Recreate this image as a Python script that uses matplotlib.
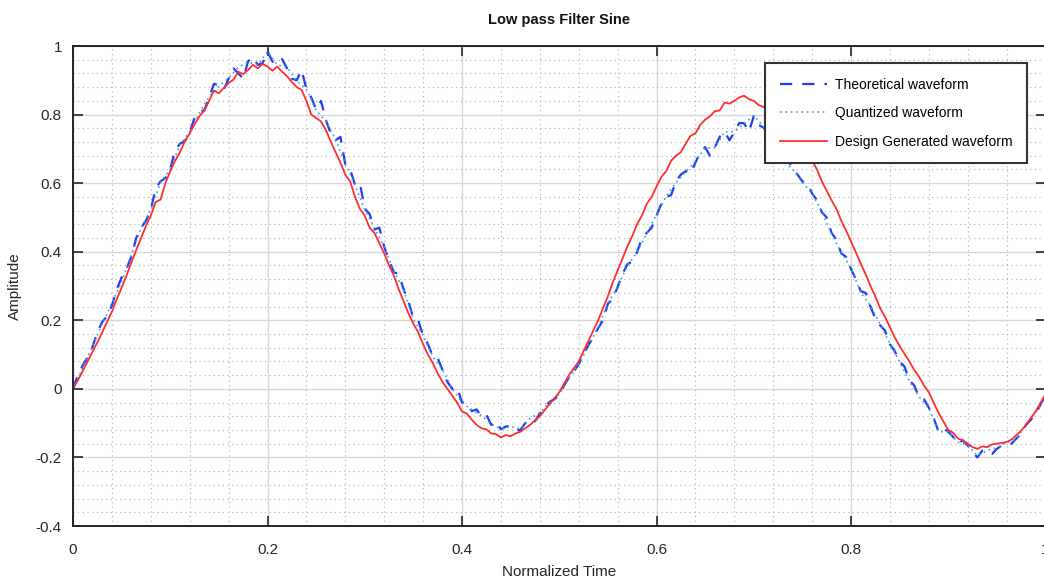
import numpy as np
import matplotlib
matplotlib.use("Agg")
import matplotlib.pyplot as plt
from matplotlib.ticker import MultipleLocator, FuncFormatter

plt.rcParams['font.family'] = ['Liberation Sans', 'DejaVu Sans']

# theoretical and design output: one sample every 0.005 of normalized time
theoretical = [
    0.000, 0.040, 0.068, 0.092, 0.122, 0.165, 0.195, 0.212, 0.243, 0.290,
    0.325, 0.350, 0.386, 0.440, 0.470, 0.490, 0.522, 0.585, 0.605, 0.615,
    0.642, 0.695, 0.715, 0.722, 0.750, 0.790, 0.808, 0.812, 0.850, 0.890,
    0.885, 0.872, 0.905, 0.935, 0.920, 0.905, 0.955, 0.968, 0.945, 0.950,
    0.985, 0.955, 0.948, 0.962, 0.935, 0.905, 0.900, 0.930, 0.875, 0.850,
    0.815, 0.840, 0.785, 0.745, 0.725, 0.735, 0.655, 0.640, 0.595, 0.600,
    0.525, 0.510, 0.465, 0.470, 0.415, 0.375, 0.340, 0.335, 0.290, 0.255,
    0.205, 0.200, 0.155, 0.130, 0.095, 0.090, 0.055, 0.020, 0.000, 0.005,
    -0.040, -0.040, -0.065, -0.060, -0.080, -0.075, -0.105, -0.095, -0.118, -0.110,
    -0.108, -0.120, -0.120, -0.100, -0.088, -0.095, -0.072, -0.055, -0.038, -0.030,
    -0.018, 0.010, 0.033, 0.050, 0.072, 0.100, 0.128, 0.150, 0.177, 0.200,
    0.248, 0.262, 0.297, 0.335, 0.363, 0.372, 0.398, 0.440, 0.455, 0.470,
    0.505, 0.540, 0.560, 0.565, 0.605, 0.625, 0.635, 0.628, 0.660, 0.690,
    0.705, 0.680, 0.705, 0.735, 0.750, 0.725, 0.748, 0.775, 0.775, 0.750,
    0.795, 0.770, 0.762, 0.745, 0.725, 0.700, 0.662, 0.670, 0.640, 0.625,
    0.605, 0.600, 0.570, 0.550, 0.515, 0.500, 0.455, 0.435, 0.395, 0.385,
    0.350, 0.320, 0.285, 0.280, 0.240, 0.205, 0.185, 0.170, 0.130, 0.110,
    0.080, 0.065, 0.025, 0.010, -0.025, -0.030, -0.055, -0.085, -0.125, -0.115,
    -0.125, -0.140, -0.160, -0.150, -0.165, -0.185, -0.200, -0.180, -0.180, -0.190,
    -0.175, -0.165, -0.160, -0.160, -0.145, -0.130, -0.105, -0.090, -0.072, -0.045,
    -0.020,
]

design = [
    0.000, 0.025, 0.052, 0.080, 0.108, 0.135, 0.165, 0.195, 0.225, 0.262,
    0.295, 0.330, 0.368, 0.405, 0.440, 0.475, 0.505, 0.545, 0.552, 0.600,
    0.635, 0.665, 0.690, 0.722, 0.745, 0.772, 0.795, 0.812, 0.840, 0.870,
    0.862, 0.878, 0.892, 0.902, 0.925, 0.918, 0.930, 0.945, 0.935, 0.948,
    0.940, 0.928, 0.940, 0.925, 0.912, 0.895, 0.880, 0.872, 0.840, 0.800,
    0.790, 0.780, 0.755, 0.722, 0.690, 0.660, 0.625, 0.605, 0.560, 0.525,
    0.505, 0.470, 0.455, 0.425, 0.395, 0.360, 0.330, 0.290, 0.255, 0.220,
    0.190, 0.165, 0.130, 0.100, 0.075, 0.045, 0.020, 0.000, -0.020, -0.040,
    -0.066, -0.072, -0.090, -0.105, -0.115, -0.118, -0.130, -0.132, -0.142, -0.135,
    -0.138, -0.130, -0.125, -0.115, -0.105, -0.092, -0.080, -0.062, -0.045, -0.028,
    -0.010, 0.015, 0.040, 0.060, 0.080, 0.110, 0.140, 0.170, 0.200, 0.235,
    0.270, 0.310, 0.345, 0.380, 0.415, 0.445, 0.480, 0.505, 0.540, 0.560,
    0.590, 0.618, 0.635, 0.665, 0.680, 0.690, 0.715, 0.738, 0.745, 0.770,
    0.785, 0.795, 0.810, 0.812, 0.835, 0.832, 0.840, 0.850, 0.855, 0.845,
    0.840, 0.828, 0.822, 0.840, 0.820, 0.812, 0.800, 0.785, 0.770, 0.745,
    0.720, 0.692, 0.665, 0.640, 0.605, 0.578, 0.550, 0.525, 0.490, 0.462,
    0.430, 0.398, 0.365, 0.335, 0.300, 0.270, 0.235, 0.210, 0.180, 0.150,
    0.125, 0.102, 0.080, 0.055, 0.035, 0.010, -0.010, -0.040, -0.070, -0.095,
    -0.120, -0.128, -0.145, -0.150, -0.160, -0.170, -0.175, -0.168, -0.170, -0.162,
    -0.160, -0.158, -0.155, -0.148, -0.135, -0.122, -0.105, -0.085, -0.065, -0.040,
    -0.015,
]

# quantized waveform, one sample every 0.01
quantized = [
    0.000, 0.062, 0.125, 0.188, 0.250, 0.312, 0.391, 0.469, 0.523, 0.602,
    0.641, 0.711, 0.750, 0.805, 0.852, 0.883, 0.906, 0.938, 0.953, 0.945,
    0.984, 0.945, 0.938, 0.898, 0.875, 0.812, 0.781, 0.727, 0.656, 0.594,
    0.523, 0.469, 0.414, 0.344, 0.289, 0.203, 0.156, 0.094, 0.055, 0.000,
    -0.039, -0.062, -0.078, -0.102, -0.117, -0.109, -0.117, -0.086, -0.070, -0.039,
    -0.016, 0.031, 0.070, 0.125, 0.180, 0.250, 0.297, 0.359, 0.398, 0.453,
    0.508, 0.562, 0.602, 0.633, 0.664, 0.703, 0.703, 0.750, 0.750, 0.773,
    0.797, 0.766, 0.727, 0.664, 0.641, 0.602, 0.570, 0.516, 0.453, 0.398,
    0.352, 0.281, 0.242, 0.188, 0.133, 0.078, 0.023, -0.023, -0.055, -0.125,
    -0.125, -0.156, -0.164, -0.195, -0.180, -0.172, -0.156, -0.148, -0.102, -0.070,
    -0.023,
]

t = np.linspace(0.0, 1.0, len(theoretical))
tq = np.linspace(0.0, 1.0, len(quantized))

fig = plt.figure(figsize=(10.44, 5.78), dpi=100)
ax = fig.add_axes([73 / 1044, 52 / 578, 972.5 / 1044, 480 / 578])

ax.plot(t, theoretical, color='#1f3ff5', lw=1.6, dashes=(5.5, 4.5),
        label='Theoretical waveform')
ax.plot(tq, quantized, color='#3fa0dc', lw=1.2, dashes=(1, 2.2),
        label='Quantized waveform')
ax.plot(t, design, color='#ff2e2e', lw=1.3, label='Design Generated waveform')

ax.set_xlim(0, 1)
ax.set_ylim(-0.4, 1)
ax.xaxis.set_major_locator(MultipleLocator(0.2))
ax.yaxis.set_major_locator(MultipleLocator(0.2))
ax.xaxis.set_minor_locator(MultipleLocator(0.04))
ax.yaxis.set_minor_locator(MultipleLocator(0.04))

ax.grid(which='major', color='#d8d8d8', lw=1.0, ls='-')
ax.grid(which='minor', color='#b0b0b0', lw=0.8, dashes=(1, 3.2))
ax.set_axisbelow(True)

ax.tick_params(which='major', direction='in', length=7, width=1.2,
               top=True, right=True, colors='#262626', labelsize=11)
ax.tick_params(axis='x', which='major', pad=12)
ax.tick_params(axis='y', which='major', pad=8)
ax.tick_params(which='minor', length=0)
fmt = FuncFormatter(lambda v, p: '%g' % round(v, 2))
ax.xaxis.set_major_formatter(fmt)
ax.yaxis.set_major_formatter(fmt)
for s in ax.spines.values():
    s.set_color('#262626')
    s.set_linewidth(1.4)

ax.set_title('Low pass Filter Sine', fontsize=10.5, fontweight='bold', pad=16, color='#111111')
ax.set_xlabel('Normalized Time', fontsize=11, color='#262626', labelpad=6)
ax.set_ylabel('Amplitude', fontsize=11, color='#262626', labelpad=10)

leg = ax.legend(loc='upper right', bbox_to_anchor=(0.981, 0.9646), borderaxespad=0,
                fontsize=10, handlelength=3.4, handletextpad=0.55, labelspacing=1.05,
                fancybox=False, framealpha=1, edgecolor='#333333', borderpad=1.05)
leg.get_frame().set_linewidth(1.5)

fig.savefig('out.png', dpi=100)
